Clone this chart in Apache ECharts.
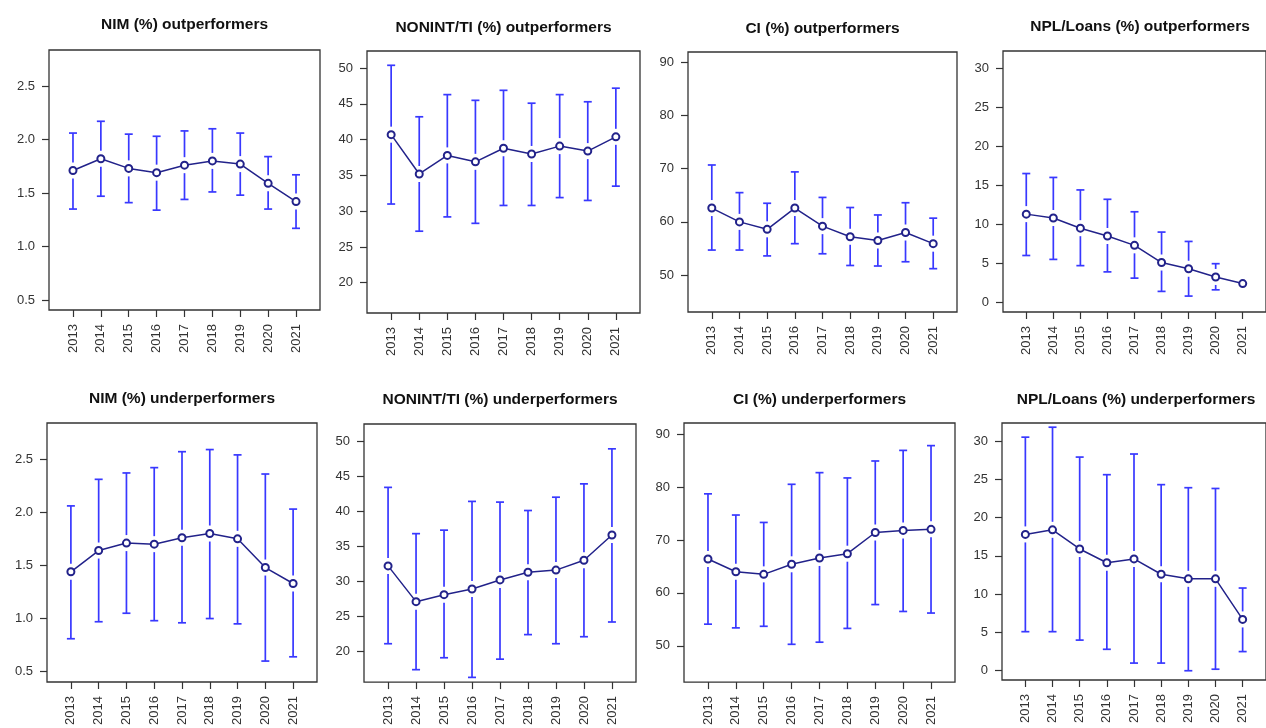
<!DOCTYPE html>
<html>
<head>
<meta charset="utf-8">
<script src="https://cdn.jsdelivr.net/npm/echarts@6/dist/echarts.min.js"></script>
<style>
html,body{margin:0;padding:0;background:#fff;}
#chart{width:1266px;height:728px;}
</style>
</head>
<body>
<div id="chart"></div>
<script>
// ---- Data ----
const years = ['2013','2014','2015','2016','2017','2018','2019','2020','2021'];

const nimOutMean  = [1.71, 1.82, 1.73, 1.69, 1.76, 1.80, 1.77, 1.59, 1.42];
const nimOutUpper = [2.06, 2.17, 2.05, 2.03, 2.08, 2.10, 2.06, 1.84, 1.67];
const nimOutLower = [1.35, 1.47, 1.41, 1.34, 1.44, 1.51, 1.48, 1.35, 1.17];

const nonintOutMean  = [40.7, 35.2, 37.8, 36.9, 38.8, 38.0, 39.1, 38.4, 40.4];
const nonintOutUpper = [50.4, 43.2, 46.3, 45.5, 46.9, 45.1, 46.3, 45.3, 47.2];
const nonintOutLower = [31.0, 27.2, 29.2, 28.3, 30.8, 30.8, 31.9, 31.5, 33.5];

const ciOutMean  = [62.6, 60.0, 58.6, 62.6, 59.2, 57.2, 56.5, 58.0, 55.9];
const ciOutUpper = [70.7, 65.5, 63.5, 69.4, 64.6, 62.7, 61.3, 63.6, 60.7];
const ciOutLower = [54.7, 54.7, 53.6, 55.9, 54.0, 51.8, 51.7, 52.5, 51.2];

const nplOutMean  = [11.3, 10.8, 9.5, 8.5, 7.3, 5.1, 4.3, 3.25, 2.4];
const nplOutUpper = [16.5, 16.0, 14.4, 13.2, 11.6, 9.0, 7.8, 4.95, 3.3];
const nplOutLower = [6.0, 5.5, 4.7, 3.9, 3.1, 1.4, 0.8, 1.6, 1.5];

const nimUnderMean  = [1.44, 1.64, 1.71, 1.70, 1.76, 1.80, 1.75, 1.48, 1.33];
const nimUnderUpper = [2.06, 2.31, 2.37, 2.42, 2.57, 2.59, 2.54, 2.36, 2.03];
const nimUnderLower = [0.81, 0.97, 1.05, 0.98, 0.96, 1.00, 0.95, 0.60, 0.64];

const nonintUnderMean  = [32.2, 27.1, 28.1, 28.9, 30.2, 31.3, 31.6, 33.0, 36.6];
const nonintUnderUpper = [43.4, 36.8, 37.3, 41.4, 41.3, 40.1, 42.0, 43.9, 48.9];
const nonintUnderLower = [21.1, 17.4, 19.1, 16.3, 18.9, 22.4, 21.1, 22.1, 24.2];

const ciUnderMean  = [66.4, 64.0, 63.5, 65.4, 66.6, 67.4, 71.4, 71.8, 72.0];
const ciUnderUpper = [78.7, 74.7, 73.3, 80.5, 82.7, 81.7, 84.9, 86.9, 87.8];
const ciUnderLower = [54.1, 53.4, 53.7, 50.3, 50.7, 53.3, 57.8, 56.5, 56.2];

const nplUnderMean  = [17.8, 18.4, 15.9, 14.1, 14.6, 12.6, 12.0, 12.0, 6.7];
const nplUnderUpper = [30.5, 31.8, 27.9, 25.6, 28.3, 24.3, 23.9, 23.8, 10.8];
const nplUnderLower = [5.1, 5.1, 4.0, 2.8, 1.0, 1.0, 0.0, 0.2, 2.5];

const nimTicks    = [0.5, 1.0, 1.5, 2.0, 2.5];
const nonintTicks = [20, 25, 30, 35, 40, 45, 50];
const ciTicks     = [50, 60, 70, 80, 90];
const nplTicks    = [0, 5, 10, 15, 20, 25, 30];

const titles = [
  'NIM (%) outperformers', 'NONINT/TI (%) outperformers', 'CI (%) outperformers', 'NPL/Loans (%) outperformers',
  'NIM (%) underperformers', 'NONINT/TI (%) underperformers', 'CI (%) underperformers', 'NPL/Loans (%) underperformers'
];

// ---- Panel definitions (data refs) ----
const panelData = [
  {mean: nimOutMean, lo: nimOutLower, hi: nimOutUpper, ticks: nimTicks, dec: 1},
  {mean: nonintOutMean, lo: nonintOutLower, hi: nonintOutUpper, ticks: nonintTicks, dec: 0},
  {mean: ciOutMean, lo: ciOutLower, hi: ciOutUpper, ticks: ciTicks, dec: 0},
  {mean: nplOutMean, lo: nplOutLower, hi: nplOutUpper, ticks: nplTicks, dec: 0},
  {mean: nimUnderMean, lo: nimUnderLower, hi: nimUnderUpper, ticks: nimTicks, dec: 1},
  {mean: nonintUnderMean, lo: nonintUnderLower, hi: nonintUnderUpper, ticks: nonintTicks, dec: 0},
  {mean: ciUnderMean, lo: ciUnderLower, hi: ciUnderUpper, ticks: ciTicks, dec: 0},
  {mean: nplUnderMean, lo: nplUnderLower, hi: nplUnderUpper, ticks: nplTicks, dec: 0}
];

// ---- Layout (positions / axis extents) ----
const layout = [
  {left: 49,   top: 50,  width: 271, height: 260, ymin: 0.407, ymax: 2.836},
  {left: 367,  top: 51,  width: 273, height: 262, ymin: 15.76, ymax: 52.40},
  {left: 688,  top: 52,  width: 269, height: 260, ymin: 43.05, ymax: 91.95},
  {left: 1003, top: 51,  width: 274, height: 261, ymin: -1.24, ymax: 32.20},
  {left: 47,   top: 423, width: 270, height: 259, ymin: 0.403, ymax: 2.840},
  {left: 364,  top: 424, width: 272, height: 261, ymin: 15.63, ymax: 52.44},
  {left: 684,  top: 423, width: 271, height: 260, ymin: 43.17, ymax: 92.07},
  {left: 1002, top: 423, width: 268, height: 257, ymin: -1.21, ymax: 32.35}
];
const titleY = [22, 25, 25.5, 24, 396, 397, 397, 397];

const XMIN = 0.14, XMAX = 9.86;
const xPos = years.map((y, i) => i + 1);
const FONT = '"Liberation Sans", Arial, Helvetica, sans-serif';

const grids = [], xAxes = [], yAxes = [], series = [], titleOpts = [];

layout.forEach((L, k) => {
  const P = panelData[k];
  grids.push({
    left: L.left, top: L.top, width: L.width, height: L.height,
    show: true, borderColor: '#333', borderWidth: 1.3, backgroundColor: 'transparent',
    containLabel: false
  });
  titleOpts.push({
    text: titles[k],
    left: L.left + L.width / 2,
    top: titleY[k] - 5,
    padding: 0,
    textAlign: 'center',
    textStyle: {fontFamily: FONT, fontWeight: 'bold', fontSize: 15.5, color: '#111'}
  });
  xAxes.push({
    type: 'value', gridIndex: k, min: XMIN, max: XMAX,
    axisLine: {show: false, onZero: false},
    splitLine: {show: false},
    axisTick: {show: true, customValues: xPos, length: 7, lineStyle: {color: '#333', width: 1.2}},
    axisLabel: {
      show: true, customValues: xPos, rotate: 90, margin: 14,
      fontFamily: FONT, fontSize: 13, color: '#333',
      formatter: v => years[Math.round(v) - 1]
    }
  });
  yAxes.push({
    type: 'value', gridIndex: k, min: L.ymin, max: L.ymax,
    axisLine: {show: false, onZero: false},
    splitLine: {show: false},
    axisTick: {show: true, customValues: P.ticks, length: 7, lineStyle: {color: '#333', width: 1.2}},
    axisLabel: {
      show: true, customValues: P.ticks, margin: 14,
      fontFamily: FONT, fontSize: 13, color: '#333',
      formatter: v => Number(v).toFixed(P.dec)
    }
  });
  // error bars
  series.push({
    type: 'custom', xAxisIndex: k, yAxisIndex: k, z: 2,
    clip: false,
    data: xPos.map((x, i) => [x, P.lo[i], P.hi[i], P.mean[i]]),
    renderItem: function (params, api) {
      const x = api.value(0);
      const pm = api.coord([x, api.value(3)]);
      const pl = api.coord([x, api.value(1)]);
      const ph = api.coord([x, api.value(2)]);
      const gap = 8, cap = 4;
      const style = {stroke: '#3838ff', lineWidth: 1.7, fill: null};
      const children = [];
      if (pm[1] - gap - ph[1] > 1) {
        children.push({type: 'line', shape: {x1: pm[0], y1: ph[1], x2: pm[0], y2: pm[1] - gap}, style});
        children.push({type: 'line', shape: {x1: pm[0] - cap, y1: ph[1], x2: pm[0] + cap, y2: ph[1]}, style});
      }
      if (pl[1] - (pm[1] + gap) > 1) {
        children.push({type: 'line', shape: {x1: pm[0], y1: pm[1] + gap, x2: pm[0], y2: pl[1]}, style});
        children.push({type: 'line', shape: {x1: pm[0] - cap, y1: pl[1], x2: pm[0] + cap, y2: pl[1]}, style});
      }
      return {type: 'group', children};
    }
  });
  // mean line with open circles
  series.push({
    type: 'line', xAxisIndex: k, yAxisIndex: k, z: 3,
    data: xPos.map((x, i) => [x, P.mean[i]]),
    symbol: 'emptyCircle', symbolSize: 7,
    lineStyle: {color: '#22228a', width: 1.5},
    itemStyle: {color: '#22228a', borderColor: '#22228a', borderWidth: 1.1},
    silent: true,
    animation: false
  });
});

const chart = echarts.init(document.getElementById('chart'), null, {renderer: 'canvas'});
chart.setOption({
  animation: false,
  backgroundColor: '#fff',
  title: titleOpts,
  grid: grids,
  xAxis: xAxes,
  yAxis: yAxes,
  series: series
});
</script>
</body>
</html>
